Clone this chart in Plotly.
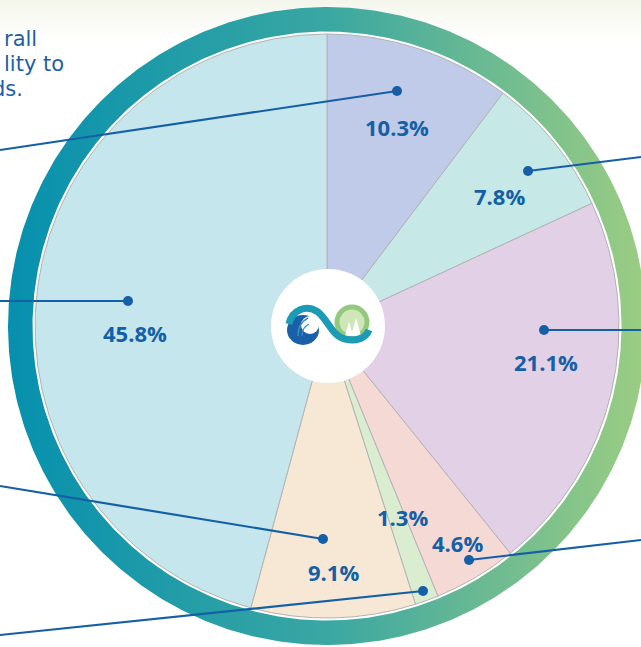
import numpy as np
import plotly.graph_objects as go

# ---- data ----
categories = ["A", "B", "C", "D", "E", "F", "G"]
values = [10.3, 7.8, 21.1, 4.6, 1.3, 9.1, 45.8]
labels_text = ["10.3%", "7.8%", "21.1%", "4.6%", "1.3%", "9.1%", "45.8%"]
slice_colors = ["#bfcbe9", "#c6e8e7", "#e2d0e6", "#f5d9d5", "#dbedd0", "#f6e8d5", "#c5e6ec"]
para_lines = ["rall", "lity to", "ds."]

W, H = 641, 647
CX, CY = 327, 326
R_PIE = 292
R_IN, R_OUT = 294.5, 319
BLUE = "#145fa6"

fig = go.Figure()

# faint background band at top
fig.add_trace(go.Scatter(
    x=[0, W, W, 0, 0], y=[0, 0, 40, 40, 0], mode="lines", line=dict(width=0),
    fill="toself", fillgradient=dict(type="vertical",
                                     colorscale=[[0, "#ffffff"], [1, "#f4f6ec"]]),
    hoverinfo="skip", showlegend=False))

# gradient ring
t = np.linspace(0, 2 * np.pi, 721)
rx = np.concatenate([CX + R_OUT * np.cos(t), CX + R_IN * np.cos(t[::-1])])
ry = np.concatenate([CY + R_OUT * np.sin(t), CY + R_IN * np.sin(t[::-1])])
fig.add_trace(go.Scatter(
    x=rx, y=ry, mode="lines", line=dict(width=0), fill="toself",
    fillgradient=dict(type="horizontal",
                      colorscale=[[0, "#0690ae"], [0.5, "#3aa7a2"], [1, "#9ccd82"]]),
    hoverinfo="skip", showlegend=False))

# pie
fig.add_trace(go.Pie(
    labels=categories, values=values, sort=False, direction="clockwise", rotation=0,
    marker=dict(colors=slice_colors, line=dict(color="#b3b3b3", width=1)),
    textinfo="none", hoverinfo="skip", showlegend=False,
    domain=dict(x=[(CX - R_PIE) / W, (CX + R_PIE) / W],
                y=[(H - CY - R_PIE) / H, (H - CY + R_PIE) / H])))

shapes = []
# leader lines (dot -> edge)
leaders = [((397, 91), (0, 150)), ((528, 171), (641, 157)), ((544, 330), (641, 330)),
           ((469, 560), (641, 540)), ((423, 591), (0, 635)), ((323, 539), (0, 486)),
           ((128, 301), (0, 301))]
for (x0, y0), (x1, y1) in leaders:
    shapes.append(dict(type="line", x0=x0, y0=y0, x1=x1, y1=y1, xref="x", yref="y",
                       line=dict(color=BLUE, width=2.2), layer="above"))
    shapes.append(dict(type="circle", x0=x0 - 5, x1=x0 + 5, y0=y0 - 5, y1=y0 + 5,
                       xref="x", yref="y", fillcolor=BLUE, line=dict(width=0), layer="above"))

# white center disc
shapes.append(dict(type="circle", x0=328 - 57, x1=328 + 57, y0=326 - 57, y1=326 + 57,
                   xref="x", yref="y", fillcolor="white", line=dict(width=0), layer="above"))
# logo: right green loop
shapes.append(dict(type="circle", x0=352 - 15, x1=352 + 15, y0=322 - 15, y1=322 + 15,
                   xref="x", yref="y", fillcolor="#cfe6b8", line=dict(color="#93c97c", width=5),
                   layer="above"))
# trees
shapes.append(dict(type="path", path="M 345,336 L 349,322 L 353,336 Z", xref="x", yref="y",
                   fillcolor="white", line=dict(width=0), layer="above"))
shapes.append(dict(type="path", path="M 351,336 L 356,318 L 361,336 Z", xref="x", yref="y",
                   fillcolor="white", line=dict(width=0), layer="above"))
# left blue loop (crescent)
shapes.append(dict(type="circle", x0=303 - 16, x1=303 + 16, y0=330 - 15, y1=330 + 15,
                   xref="x", yref="y", fillcolor="#1a60a8", line=dict(width=0), layer="above"))
shapes.append(dict(type="circle", x0=310 - 9, x1=310 + 9, y0=325 - 9, y1=325 + 9,
                   xref="x", yref="y", fillcolor="white", line=dict(width=0), layer="above"))
shapes.append(dict(type="path", path="M 298,336 C 298,327 302,321 308,318", xref="x", yref="y",
                   line=dict(color="#3a8cc4", width=1.5), layer="above"))
shapes.append(dict(type="path", path="M 302,336 C 302,330 305,326 309,324", xref="x", yref="y",
                   line=dict(color="#3a8cc4", width=1.2), layer="above"))
# teal crossing band
shapes.append(dict(type="path",
                   path="M 289,324 C 292,310 306,304 318,312 C 328,320 332,336 345,339 C 356,342 366,338 369,330",
                   xref="x", yref="y", line=dict(color="#1b9bb6", width=7), layer="above"))

fig.update_layout(shapes=shapes)

# labels
label_pos = [(397, 127), (499, 196), (546, 362), (457, 543), (402, 517), (333, 572), (135, 333)]
for txt, (x, y) in zip(labels_text, label_pos):
    fig.add_annotation(x=x, y=y, xref="x", yref="y", text="<b>%s</b>" % txt, showarrow=False,
                       font=dict(family="Open Sans", size=22, color=BLUE))

# cropped paragraph text at top-left
para_pos = [(38, 39), (65, 64), (24, 89)]
for txt, (xr, y) in zip(para_lines, para_pos):
    fig.add_annotation(x=xr, y=y, xref="x", yref="y", text=txt, showarrow=False,
                       xanchor="right", borderpad=0,
                       font=dict(family="DejaVu Sans", size=21, color="#1d5fa6"))

fig.update_layout(
    width=W, height=H, margin=dict(l=0, r=0, t=0, b=0),
    paper_bgcolor="white", plot_bgcolor="white",
    xaxis=dict(range=[0, W], visible=False, fixedrange=True),
    yaxis=dict(range=[H, 0], visible=False, fixedrange=True),
    showlegend=False, hovermode=False,
)

fig.write_html("out.html", config={"displayModeBar": False},
               post_script="document.body.style.margin='0';document.body.style.overflow='hidden';")
